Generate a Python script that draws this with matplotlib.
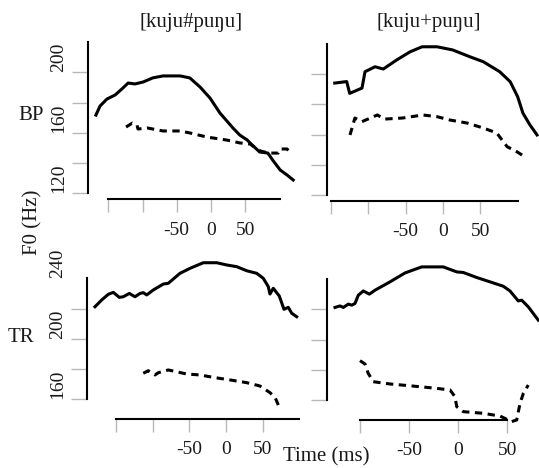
import matplotlib
matplotlib.use('Agg')
from matplotlib import pyplot as plt

plt.rcParams['font.family'] = ['Liberation Serif', 'DejaVu Serif']

# --- data (time in ms, F0 in Hz) ---
# BP, [kuju#puŋu]
bp_hash_solid_t = [-168, -162, -152, -140, -130, -121, -111, -99, -85, -70, -45, -31, -16, -1.5, 13, 32, 42, 53, 57, 71, 83, 90, 101, 111, 120]
bp_hash_solid_f = [171.7, 177.7, 182.3, 185, 189, 192.9, 192.3, 193.6, 196.3, 197.6, 197.6, 196.3, 190.3, 183, 173.1, 163.2, 158.5, 155.2, 153.3, 147.3, 146.6, 142, 135.4, 132.1, 128.8]
bp_hash_dash_t = [-124, -115, -108, -106.6, -93, -70, -45, -31, -6, 23, 42, 57, 61, 72, 84, 98, 101, 111, 115]
bp_hash_dash_f = [163.8, 166.4, 165.2, 162.5, 163.2, 161.2, 161.2, 159.9, 157.2, 155.2, 153.3, 152.6, 151.3, 148, 146.6, 146.6, 149.3, 149.3, 147.3]

# BP, [kuju+puŋu]
bp_plus_solid_t = [-145, -129, -125, -108.5, -104.5, -91, -80, -62, -44, -28, -8, 13, 36, 54, 76, 90, 100, 107, 116.5, 126]
bp_plus_solid_f = [194, 195, 187.2, 190.7, 201.5, 204.8, 203.3, 209.3, 214.7, 218, 218, 215.9, 211.4, 208.1, 201.5, 194.9, 185, 174.2, 166.3, 159.7]
bp_plus_dash_t = [-124.6, -118, -108.5, -88, -78, -54, -27, -8, 9, 32, 54, 72, 86, 99, 106]
bp_plus_dash_f = [159.7, 170.9, 168.5, 172.9, 170.2, 170.9, 172.9, 171.8, 169.6, 167.6, 164.3, 161, 151.9, 148.6, 146.4]

# TR, [kuju#puŋu]
tr_hash_solid_t = [-178.5, -169.3, -160.4, -153.5, -145.4, -139.9, -131.7, -124, -117.2, -112.7, -108, -99, -85.4, -78.6, -62.7, -49, -30.9, -12.7, 1, 14.6, 28.2, 41.8, 50.8, 57.6, 59.9, 64.4, 72.6, 79, 84.9, 89.5, 96.3]
tr_hash_solid_f = [221.2, 225.7, 229.4, 230.7, 227.4, 227.8, 230, 227.8, 230, 230.5, 229, 232.3, 236.2, 236.7, 243.3, 246.6, 250.3, 250.3, 248.8, 247.7, 245, 243.3, 240, 234.5, 229.6, 233.4, 228.3, 219.5, 220.8, 216.9, 214.6]
tr_hash_dash_t = [-112.7, -105.9, -96.7, -92.2, -78.6, -71.8, -53.5, -35.4, -17.3, 5.4, 28.2, 46.3, 59.9, 66.8, 71.3]
tr_hash_dash_f = [177.2, 178.9, 176.1, 177.6, 179.4, 178.7, 176.7, 176.1, 174.5, 172.8, 171, 168.8, 164.4, 161.3, 156.2]

# TR, [kuju+puŋu]
tr_plus_solid_t = [-125.1, -120, -116.7, -111.6, -108.1, -104.8, -101.4, -96.3, -90.2, -84.4, -69.2, -53.9, -36.9, -15, -1.3, 5.4, 19, 32.6, 46.1, 52.9, 61.3, 64.8, 71.5, 76.6, 81.7]
tr_plus_solid_f = [221.2, 222.2, 221.2, 223.4, 222.7, 223.8, 229.3, 232.1, 230, 232.6, 238.1, 244, 248, 248, 244.7, 244.3, 241, 238.1, 235.2, 232.1, 225.5, 226, 221.6, 217.2, 212.8]
tr_plus_dash_t = [-99.7, -94.6, -91.3, -86.2, -69.2, -48.8, -21.7, -8.1, -3.1, -1.3, 5.4, 25.7, 42.7, 54.6, 59.7, 63.1, 66.5, 71.5]
tr_plus_dash_f = [186, 183.8, 177.6, 172.1, 170.6, 169.4, 167.7, 166.6, 162.2, 155.6, 152.3, 151.2, 149.4, 145.7, 146.8, 157.8, 164.4, 169.9]

titles = ['[kuju#puŋu]', '[kuju+puŋu]']
rows = ['BP', 'TR']

W, H = 539, 468
fig = plt.figure(figsize=(W / 100, H / 100), dpi=100)

TICK = '#b8b8b8'
INK = '#1a1a1a'


def add_panel(x0, sx, yb, fb, sy, xlim, ylim):
    # x0: pixel of t=0, sx: px per ms, yb: pixel of f=fb, sy: px per Hz
    left = x0 + xlim[0] * sx
    right = x0 + xlim[1] * sx
    bottom = yb - (ylim[0] - fb) * sy
    top = yb - (ylim[1] - fb) * sy
    ax = fig.add_axes([left / W, 1 - bottom / H, (right - left) / W, (bottom - top) / H])
    ax.set_xlim(xlim)
    ax.set_ylim(ylim)
    ax.patch.set_visible(False)
    for s in ['top', 'right']:
        ax.spines[s].set_visible(False)
    for s in ['left', 'bottom']:
        ax.spines[s].set_linewidth(1.5)
        ax.spines[s].set_color('black')
    ax.tick_params(axis='y', direction='out', length=11.5, width=1, color=TICK, pad=3.5, labelsize=14, labelcolor=INK)
    ax.tick_params(axis='x', direction='out', length=9, width=1, color=TICK, pad=7, labelsize=14, labelcolor=INK)
    return ax


def curves(ax, st, sf, dt, df):
    ax.plot(st, sf, color='black', linewidth=2.2, solid_joinstyle='round', clip_on=False)
    ax.plot(dt, df, color='black', linewidth=2.2, linestyle=(0, (2.4, 1.8)), clip_on=False)


# top left: BP [kuju#puŋu]
ax1 = add_panel(211, 0.685, 193.3, 120, 1.5125, (-185, 130), (110, 225))
curves(ax1, bp_hash_solid_t, bp_hash_solid_f, bp_hash_dash_t, bp_hash_dash_f)
ax1.spines['left'].set_position(('data', -179.6))
ax1.spines['left'].set_bounds(120, 220)
ax1.spines['bottom'].set_position(('data', 116))
ax1.spines['bottom'].set_bounds(-150, 100)
ax1.set_yticks([120, 140, 160, 180, 200])
ax1.set_yticklabels(['120', '', '160', '', '200'], rotation=90, va='bottom')
ax1.set_xticks([-150, -100, -50, 0, 50])
ax1.set_xticklabels(['', '', '-50', '0', '50'])

# top right: BP [kuju+puŋu]
ax2 = add_panel(443, 0.7465, 195, 120, 1.5125, (-160, 128.6), (110, 225))
curves(ax2, bp_plus_solid_t, bp_plus_solid_f, bp_plus_dash_t, bp_plus_dash_f)
ax2.spines['left'].set_position(('data', -155))
ax2.spines['left'].set_bounds(120, 220)
ax2.spines['bottom'].set_position(('data', 116.2))
ax2.spines['bottom'].set_bounds(-150, 100)
ax2.set_yticks([120, 140, 160, 180, 200])
ax2.set_yticklabels([])
ax2.set_xticks([-150, -100, -50, 0, 50])
ax2.set_xticklabels(['', '', '-50', '0', '50'])

# bottom left: TR [kuju#puŋu]
ax3 = add_panel(226, 0.734, 399.3, 160, 1.5125, (-195, 105), (140, 258))
curves(ax3, tr_hash_solid_t, tr_hash_solid_f, tr_hash_dash_t, tr_hash_dash_f)
ax3.spines['left'].set_position(('data', -189))
ax3.spines['left'].set_bounds(160, 240)
ax3.spines['bottom'].set_position(('data', 146.8))
ax3.spines['bottom'].set_bounds(-150, 100)
ax3.set_yticks([160, 180, 200, 220, 240])
ax3.set_yticklabels(['160', '', '200', '', '240'], rotation=90, va='bottom')
ax3.yaxis.get_major_ticks()[-1].tick1line.set_visible(False)
ax3.set_xticks([-150, -100, -50, 0, 50])
ax3.set_xticklabels(['', '', '-50', '0', '50'])

# bottom right: TR [kuju+puŋu]
ax4 = add_panel(458, 0.983, 400, 160, 1.5125, (-140, 82.5), (140, 258))
curves(ax4, tr_plus_solid_t, tr_plus_solid_f, tr_plus_dash_t, tr_plus_dash_f)
ax4.spines['left'].set_position(('data', -133))
ax4.spines['left'].set_bounds(160, 240)
ax4.spines['bottom'].set_position(('data', 146.6))
ax4.spines['bottom'].set_bounds(-100, 50)
ax4.set_yticks([160, 180, 200, 220])
ax4.set_yticklabels([])
ax4.set_xticks([-100, -50, 0, 50])
ax4.set_xticklabels(['', '-50', '0', '50'])

# panel titles, row labels, axis titles
fig.text(191 / W, 1 - 22 / H, titles[0], ha='center', va='center', fontsize=15, color=INK)
fig.text(429 / W, 1 - 22 / H, titles[1], ha='center', va='center', fontsize=15, color=INK)
fig.text(31 / W, 1 - 115 / H, rows[0], ha='center', va='center', fontsize=15, color=INK)
fig.text(21 / W, 1 - 338 / H, rows[1], ha='center', va='center', fontsize=15, color=INK)
fig.text(33 / W, 1 - 222 / H, 'F0 (Hz)', ha='center', va='center', rotation=90, fontsize=15, color=INK)
fig.text(326 / W, 1 - 457 / H, 'Time (ms)', ha='center', va='center', fontsize=15, color=INK)

plt.savefig('out.png', dpi=100)
